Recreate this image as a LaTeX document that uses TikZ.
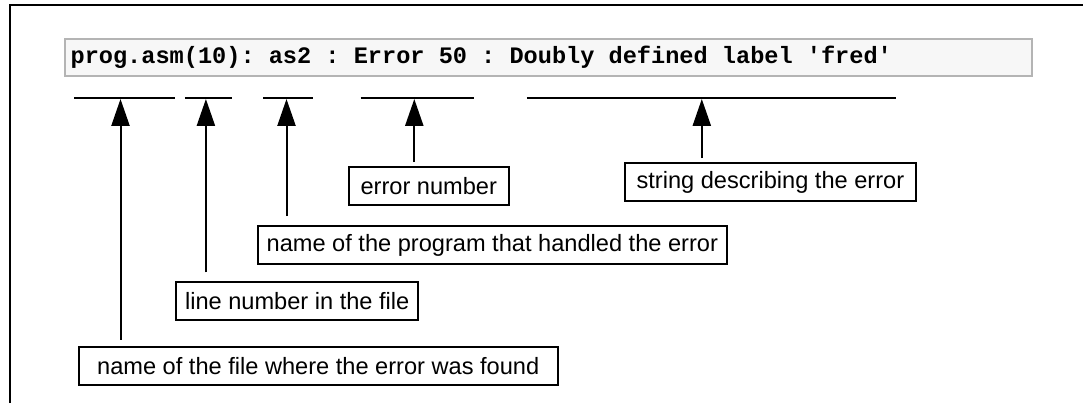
\documentclass[tikz,border=0pt]{standalone}
\usepackage{fontspec}
\setmainfont{Liberation Sans}
\newfontfamily\codefont{Liberation Mono}
\usetikzlibrary{arrows.meta}

\definecolor{codeedge}{HTML}{B4B4B4}
\definecolor{codeback}{HTML}{F7F7F7}

% one fixed character cell of the code font
\newcommand\cell{\hspace*{0.6em}}

\tikzset{
  tag/.style={draw, line width=1pt, inner sep=0pt, minimum height=19pt},
  ptr/.style={line width=1pt, -{Triangle[length=13.4pt,width=9pt]}},
  uline/.style={line width=1pt}
}

\begin{document}
\begin{tikzpicture}[x=0.5pt,y=-0.5pt]
\useasboundingbox (0,0) rectangle (1083,403);
\fontsize{11.8pt}{14pt}\selectfont

% frame
\draw[line width=1pt] (10,403) -- (10,5) -- (1083,5);

% the message
\node[draw=codeedge, fill=codeback, line width=1pt, inner xsep=2.6pt, inner ysep=0pt,
      minimum height=18.9pt, text width=478.1pt, align=left]
  (msg) at (548.7,57.5) {\codefont\bfseries prog.asm(10):\cell as2\cell:\cell Error\cell 50\cell:\cell Doubly\cell defined\cell label\cell 'fred'};

% underlines
\draw[uline] (74.4,98) -- (174.6,98);
\draw[uline] (184.9,98) -- (231.7,98);
\draw[uline] (263.4,98) -- (312.7,98);
\draw[uline] (360.5,98) -- (473.5,98);
\draw[uline] (526.9,98) -- (896.4,98);

\coordinate (u1) at (120.5,99);
\coordinate (u2) at (205.9,99);
\coordinate (u3) at (286.5,99);
\coordinate (u4) at (414.3,99);
\coordinate (u5) at (701.8,99);

% labels
\node[tag, minimum width=80.3pt]  (errnum) at (428.8,186.0) {error number};
\node[tag, minimum width=145.7pt] (descr)  at (770.4,182.1) {string describing the error};
\node[tag, minimum width=234.7pt] (prog)   at (492.3,245.1) {name of the program that handled the error};
\node[tag, minimum width=120.9pt] (lineno) at (297.2,301.3) {line number in the file};
\node[tag, minimum width=239.7pt] (fname)  at (318.2,365.9) {name of the file where the error was found};

% arrows
\draw[ptr, shorten <=3pt]   (fname.north -| u1)  -- (u1);
\draw[ptr, shorten <=4.5pt] (lineno.north -| u2) -- (u2);
\draw[ptr, shorten <=4.5pt] (prog.north -| u3)   -- (u3);
\draw[ptr, shorten <=2pt]   (errnum.north -| u4) -- (u4);
\draw[ptr, shorten <=2pt]   (descr.north -| u5)  -- (u5);
\end{tikzpicture}
\end{document}
